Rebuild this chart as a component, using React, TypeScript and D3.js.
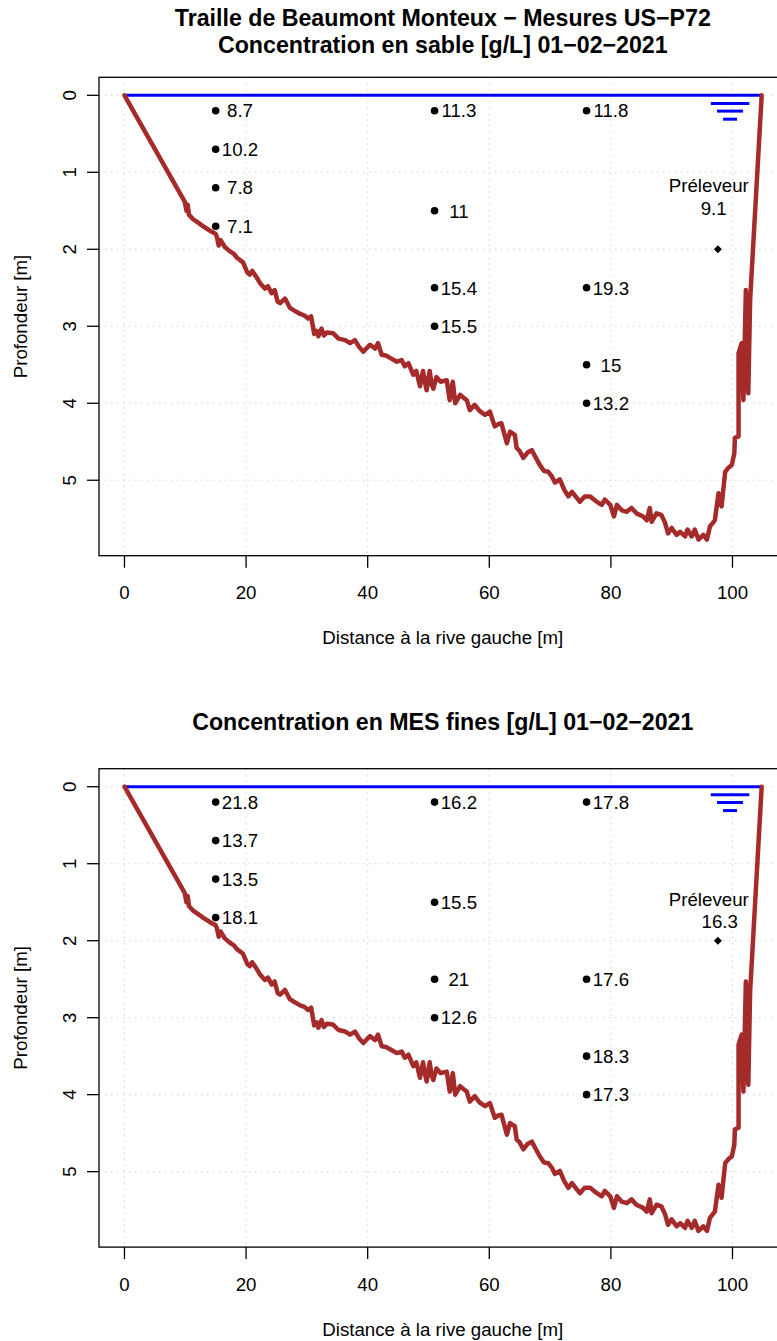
import React from 'react';
import * as d3 from 'd3';

// Bathymetric profile (distance from left bank [m], depth [m])
const profileX = [
  0, 9.9, 10.2, 10.4, 10.6, 11.3, 12.4, 12.9, 13.5, 14.3, 15.0, 15.2, 15.5, 15.8, 16.5, 17.4, 18.0, 18.5, 19.5,
  20.2, 20.6, 21.0, 21.7, 22.3, 23.1, 23.6, 24.2, 24.7, 25.2, 25.6, 26.4, 27.2, 27.8, 28.9, 29.6, 30.2, 30.7,
  31.2, 31.6, 31.9, 32.4, 32.8, 33.3, 34.3, 35.2, 36.3, 37.1, 37.9, 38.6, 39.3, 40.0, 40.4, 41.2, 41.7, 42.3,
  43.0, 43.9, 44.8, 45.6, 46.1, 46.7, 47.5, 48.0, 48.6, 49.1, 49.4, 49.7, 50.2, 50.5, 50.8, 51.3, 52.0, 53.0,
  53.5, 54.0, 54.4, 55.2, 55.8, 56.3, 56.8, 57.6, 58.4, 59.3, 60.1, 60.9, 61.5, 62.0, 62.9, 63.4, 64.2, 64.5,
  65.0, 65.6, 66.3, 67.0, 67.6, 68.3, 69.0, 69.7, 70.3, 70.8, 71.6, 72.3, 73.0, 73.6, 74.3, 74.9, 75.7, 76.6,
  77.2, 77.7, 78.5, 79.0, 79.9, 80.5, 81.0, 81.8, 82.6, 83.4, 84.2, 85.3, 85.9, 86.4, 86.7, 87.5, 88.3, 88.9,
  89.4, 90.0, 90.8, 91.4, 92.2, 92.6, 93.3, 93.8, 94.4, 95.2, 95.8, 96.3, 97.1, 97.7, 98.2, 98.8, 99.3, 99.9,
  100.3, 100.4, 101.0, 101.0, 101.5, 101.8, 102.2, 102.6, 102.9, 104.8,
];
const profileDepth = [
  0, 1.38, 1.50, 1.42, 1.55, 1.61, 1.67, 1.70, 1.73, 1.77, 1.80, 1.84, 1.95, 1.88, 1.97, 2.03, 2.06, 2.11, 2.17,
  2.30, 2.33, 2.28, 2.36, 2.44, 2.51, 2.48, 2.57, 2.53, 2.68, 2.70, 2.64, 2.76, 2.79, 2.84, 2.86, 2.90, 2.87,
  3.10, 3.06, 3.13, 3.03, 3.12, 3.08, 3.09, 3.16, 3.18, 3.22, 3.18, 3.27, 3.33, 3.27, 3.24, 3.29, 3.22, 3.37,
  3.38, 3.42, 3.46, 3.44, 3.52, 3.48, 3.63, 3.58, 3.78, 3.58, 3.72, 3.83, 3.58, 3.75, 3.81, 3.66, 3.72, 3.70,
  3.96, 3.72, 4.00, 3.89, 3.93, 3.96, 4.09, 4.02, 4.10, 4.15, 4.11, 4.30, 4.27, 4.26, 4.52, 4.37, 4.41, 4.58,
  4.62, 4.71, 4.64, 4.61, 4.70, 4.80, 4.88, 4.89, 4.95, 5.03, 4.99, 5.12, 5.21, 5.15, 5.22, 5.28, 5.21, 5.21,
  5.25, 5.28, 5.32, 5.25, 5.32, 5.47, 5.32, 5.39, 5.41, 5.36, 5.43, 5.47, 5.52, 5.36, 5.54, 5.43, 5.45, 5.55,
  5.69, 5.62, 5.71, 5.67, 5.73, 5.64, 5.73, 5.64, 5.77, 5.71, 5.77, 5.60, 5.52, 5.17, 5.34, 4.89, 4.84, 4.80,
  4.65, 4.45, 4.43, 3.35, 3.22, 3.96, 2.53, 3.87, 2.66, 0,
];

// Water surface
const surfaceX = [0, 104.8];
const surfaceDepth = [0, 0];

// Water-level symbol (centre, depth, half-width)
const waterSymbolCentre = 99.6;
const waterSymbolDepth = [0.105, 0.205, 0.31];
const waterSymbolHalfWidth = [3.17, 2.14, 1.15];

// Sampling verticals
const sampleX = [15, 15, 15, 15, 51, 51, 51, 51, 76, 76, 76, 76];
const sampleDepth = [0.2, 0.7, 1.2, 1.7, 0.2, 1.5, 2.5, 3.0, 0.2, 2.5, 3.5, 4.0];
const sandValues = ['8.7', '10.2', '7.8', '7.1', '11.3', '11', '15.4', '15.5', '11.8', '19.3', '15', '13.2'];
const finesValues = ['21.8', '13.7', '13.5', '18.1', '16.2', '15.5', '21', '12.6', '17.8', '17.6', '18.3', '17.3'];
const labelShift = 4;

// Sampler (Préleveur)
const samplerX = 97.6;
const samplerDepth = 2;
const samplerValues = ['9.1', '16.3'];
const samplerLabelX = [96.1, 96.1];
const samplerValueX = [96.9, 97.9];
const samplerLabelDepth = [1.25, 1.55];
const samplerValueDepth = [1.555, 1.835];

// Axes
const xTicks = [0, 20, 40, 60, 80, 100];
const yTicks = [0, 1, 2, 3, 4, 5];

const titles1 = ['Traille de Beaumont Monteux \u2212 Mesures US\u2212P72', 'Concentration en sable [g/L] 01\u221202\u22122021'];
const titles2 = ['Concentration en MES fines [g/L] 01\u221202\u22122021'];

const W = 777;
const H = 1341;
const FONT = '"Liberation Sans", Arial, Helvetica, sans-serif';
const FS = 18.7;
const TFS = 23.2;

const xScale = d3.scaleLinear().domain([-4.19, 108.9]).range([99, 786.6]);
const yScale = d3.scaleLinear().domain([-0.234, 5.98]).range([77.3, 555.7]);

function pathFrom(xs: number[], ys: number[]): string {
  const pts = xs.map((x, i) => [x, ys[i]] as [number, number]);
  return (
    d3
      .line<[number, number]>()
      .x((d) => xScale(d[0]))
      .y((d) => yScale(d[1]))(pts) || ''
  );
}

interface PanelProps {
  offset: number;
  titles: string[];
  titleBaselines: number[];
  values: string[];
  idx: number;
}

function Panel({ offset, titles, titleBaselines, values, idx }: PanelProps) {
  const [x0, x1] = xScale.range();
  const [y0, y1] = yScale.range();
  const cx = (x0 + x1) / 2;
  const cy = (y0 + y1) / 2;
  const sx = xScale(samplerX);
  const sy = yScale(samplerDepth);
  const dr = 4;
  return (
    <g transform={`translate(0,${offset})`}>
      {titles.map((t, i) => (
        <text key={i} x={cx} y={titleBaselines[i]} textAnchor="middle" fontFamily={FONT} fontSize={TFS} fontWeight="bold">
          {t}
        </text>
      ))}
      <g stroke="#d3d3d3" strokeWidth={1} strokeDasharray="1.5,4.5">
        {xTicks.map((t) => (
          <line key={'gx' + t} x1={xScale(t)} x2={xScale(t)} y1={y0} y2={y1} />
        ))}
        {yTicks.map((t) => (
          <line key={'gy' + t} x1={x0} x2={x1} y1={yScale(t)} y2={yScale(t)} />
        ))}
      </g>
      <path d={pathFrom(surfaceX, surfaceDepth)} stroke="#0000ff" strokeWidth={3} fill="none" />
      {waterSymbolDepth.map((d, i) => (
        <line
          key={'ws' + i}
          x1={xScale(waterSymbolCentre - waterSymbolHalfWidth[i])}
          x2={xScale(waterSymbolCentre + waterSymbolHalfWidth[i])}
          y1={yScale(d)}
          y2={yScale(d)}
          stroke="#0000ff"
          strokeWidth={3}
        />
      ))}
      <path d={pathFrom(profileX, profileDepth)} stroke="#a52a2a" strokeWidth={4.5} fill="none" strokeLinejoin="round" strokeLinecap="round" />
      {sampleX.map((x, i) => (
        <circle key={'p' + i} cx={xScale(x)} cy={yScale(sampleDepth[i])} r={3.8} fill="#000" />
      ))}
      {sampleX.map((x, i) => (
        <text
          key={'l' + i}
          x={xScale(x + labelShift)}
          y={yScale(sampleDepth[i])}
          dy="0.36em"
          textAnchor="middle"
          fontFamily={FONT}
          fontSize={FS}
        >
          {values[i]}
        </text>
      ))}
      <path d={`M${sx},${sy - dr}L${sx + dr},${sy}L${sx},${sy + dr}L${sx - dr},${sy}Z`} fill="#000" />
      <text x={xScale(samplerLabelX[idx])} y={yScale(samplerLabelDepth[idx])} textAnchor="middle" fontFamily={FONT} fontSize={FS}>
        Préleveur
      </text>
      <text x={xScale(samplerValueX[idx])} y={yScale(samplerValueDepth[idx])} textAnchor="middle" fontFamily={FONT} fontSize={FS}>
        {samplerValues[idx]}
      </text>
      <rect x={x0} y={y0} width={x1 - x0} height={y1 - y0} fill="none" stroke="#000" strokeWidth={1.3} />
      {xTicks.map((t) => (
        <g key={'xt' + t}>
          <line x1={xScale(t)} x2={xScale(t)} y1={y1} y2={y1 + 12} stroke="#000" strokeWidth={1.3} />
          <text x={xScale(t)} y={y1 + 43.5} textAnchor="middle" fontFamily={FONT} fontSize={FS}>
            {t}
          </text>
        </g>
      ))}
      <text x={cx} y={y1 + 88.5} textAnchor="middle" fontFamily={FONT} fontSize={FS}>
        Distance à la rive gauche [m]
      </text>
      {yTicks.map((t) => (
        <g key={'yt' + t}>
          <line x1={x0 - 12} x2={x0} y1={yScale(t)} y2={yScale(t)} stroke="#000" strokeWidth={1.3} />
          <text
            transform={`translate(${x0 - 23.5},${yScale(t)}) rotate(-90)`}
            textAnchor="middle"
            fontFamily={FONT}
            fontSize={FS}
          >
            {t}
          </text>
        </g>
      ))}
      <text transform={`translate(${27},${cy}) rotate(-90)`} textAnchor="middle" fontFamily={FONT} fontSize={FS}>
        Profondeur [m]
      </text>
    </g>
  );
}

export default function App() {
  return (
    <svg
      width={W}
      height={H}
      viewBox={`0 0 ${W} ${H}`}
      style={{ position: 'absolute', left: 0, top: 0, background: '#fff' }}
    >
      <rect x={0} y={0} width={W} height={H} fill="#fff" />
      <Panel offset={0} titles={titles1} titleBaselines={[25.5, 52.5]} values={sandValues} idx={0} />
      <Panel offset={691.4} titles={titles2} titleBaselines={[38.8]} values={finesValues} idx={1} />
    </svg>
  );
}
